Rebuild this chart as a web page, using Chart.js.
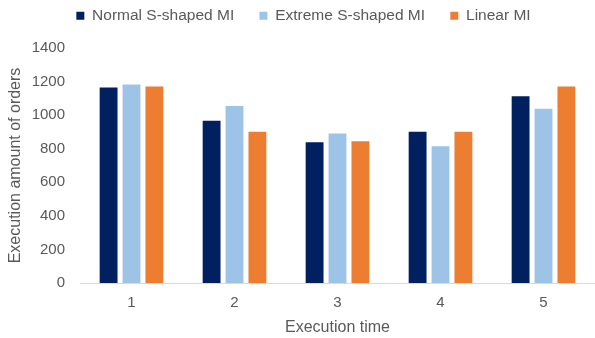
<!DOCTYPE html>
<html>
<head>
<meta charset="utf-8">
<script src="https://cdn.jsdelivr.net/npm/chart.js@4"></script>
<style>
  html, body { margin: 0; padding: 0; background: #ffffff; }
  #wrap { width: 595px; height: 338px; position: relative; }
</style>
</head>
<body>
<div id="wrap"><canvas id="chart"></canvas></div>
<script>
// Execution time slots
const categories = ['1', '2', '3', '4', '5'];

// Execution amount of orders per market impact model
const normalS = [1165, 966, 839, 901, 1113];
const extremeS = [1183, 1054, 891, 814, 1038];
const linear = [1171, 901, 845, 901, 1171];

const seriesNames = ['Normal S-shaped MI', 'Extreme S-shaped MI', 'Linear MI'];
const seriesColors = ['#002060', '#9DC3E6', '#ED7D31'];

// y-axis tick values
const yTicks = [0, 200, 400, 600, 800, 1000, 1200, 1400];

const textColor = '#595959';
const fontFamily = '"Liberation Sans", Arial, sans-serif';

// Fixed legend height, and the legend row centred a little right of the canvas middle
const legendPlacePlugin = {
  id: 'legendPlace',
  afterInit(chart) {
    const lg = chart.legend;
    if (!lg) return;
    const fit = lg.fit.bind(lg);
    lg.fit = function () { fit(); this.height = 48; };
  },
  afterLayout(chart) {
    if (chart.legend) chart.legend.left += 12;
  }
};

new Chart(document.getElementById('chart'), {
  type: 'bar',
  data: {
    labels: categories,
    datasets: [normalS, extremeS, linear].map((values, i) => ({
      label: seriesNames[i],
      data: values,
      backgroundColor: seriesColors[i],
      categoryPercentage: 0.667,
      barPercentage: 0.78
    }))
  },
  plugins: [legendPlacePlugin],
  options: {
    responsive: true,
    maintainAspectRatio: false,
    animation: false,
    layout: { padding: { left: 0, right: 0, top: 0, bottom: 0 } },
    plugins: {
      legend: {
        position: 'top',
        labels: {
          boxWidth: 8,
          boxHeight: 8,
          padding: 8,
          color: textColor,
          font: { family: fontFamily, size: 15.5 },
          generateLabels(chart) {
            const items = Chart.defaults.plugins.legend.labels.generateLabels(chart);
            // wider spacing between entries
            items.forEach((it, i) => { if (i < items.length - 1) it.text = it.text + '\u00a0\u00a0\u00a0\u00a0'; });
            return items;
          }
        }
      },
      tooltip: { enabled: false }
    },
    scales: {
      x: {
        grid: { display: false },
        border: { display: true, color: '#d9d9d9', width: 1 },
        ticks: { color: textColor, font: { family: fontFamily, size: 15 }, padding: 3 },
        title: {
          display: true,
          text: 'Execution time',
          color: textColor,
          font: { family: fontFamily, size: 16 },
          padding: { top: 0, bottom: 1 }
        },
        afterFit(scale) { scale.height = 55; }
      },
      y: {
        min: 0,
        max: 1400,
        afterBuildTicks(scale) { scale.ticks = yTicks.map(v => ({ value: v })); },
        ticks: {
          color: textColor,
          font: { family: fontFamily, size: 15 },
          padding: 7,
          callback: (v) => String(v)
        },
        grid: { display: false },
        border: { display: false },
        title: {
          display: true,
          text: 'Execution amount of orders',
          color: textColor,
          font: { family: fontFamily, size: 16 },
          padding: { top: 6, bottom: 0 }
        },
        afterFit(scale) { scale.width = 80; }
      }
    }
  }
});
</script>
</body>
</html>
